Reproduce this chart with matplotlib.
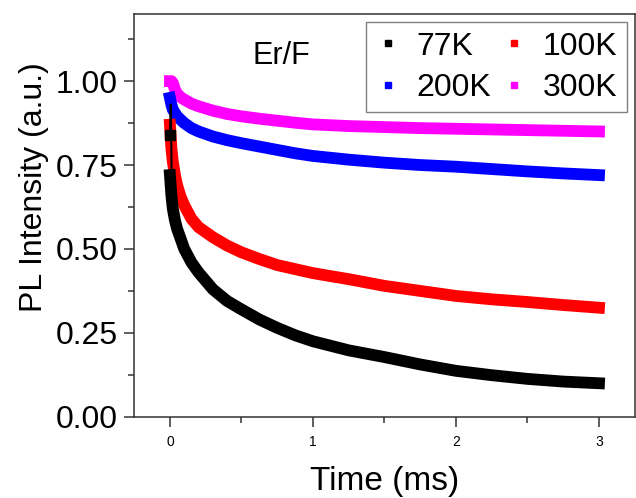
import matplotlib
matplotlib.use("Agg")
import matplotlib.pyplot as plt
from matplotlib.lines import Line2D
from matplotlib.ticker import MultipleLocator, FormatStrFormatter

plt.rcParams['font.family'] = ['Liberation Sans', 'DejaVu Sans']

# time axis (ms) shared by the decay curves
time_ms = [0.0, 0.01, 0.02, 0.035, 0.05, 0.075, 0.1, 0.15, 0.2, 0.3, 0.4, 0.5,
           0.625, 0.75, 0.875, 1.0, 1.25, 1.5, 1.75, 2.0, 2.25, 2.5, 2.75, 3.0]

pl_77k = [0.72, 0.66, 0.62, 0.585, 0.56, 0.53, 0.50, 0.46, 0.43, 0.38, 0.345,
          0.32, 0.29, 0.265, 0.243, 0.225, 0.198, 0.178, 0.156, 0.137, 0.124,
          0.113, 0.105, 0.10]
pl_100k = [0.87, 0.80, 0.76, 0.72, 0.69, 0.655, 0.63, 0.59, 0.565, 0.535, 0.51,
           0.49, 0.47, 0.452, 0.44, 0.428, 0.41, 0.39, 0.375, 0.36, 0.35, 0.342,
           0.333, 0.325]
pl_200k = [0.95, 0.93, 0.915, 0.905, 0.895, 0.885, 0.875, 0.86, 0.85, 0.835,
           0.824, 0.815, 0.805, 0.795, 0.785, 0.777, 0.766, 0.757, 0.75, 0.745,
           0.738, 0.731, 0.725, 0.72]
pl_300k = [1.0, 1.0, 0.995, 0.975, 0.962, 0.952, 0.945, 0.933, 0.925, 0.912,
           0.902, 0.895, 0.888, 0.882, 0.876, 0.871, 0.866, 0.863, 0.86, 0.858,
           0.856, 0.854, 0.852, 0.85]

# first few points of the 77K trace (spike right at t=0)
head_77k_t = [0.0, 0.006, 0.012]
head_77k_v = [0.84, 0.93, 0.72]

labels = ['77K', '100K', '200K', '300K']
colors = ['black', '#FF0000', '#0000FF', '#FF00FF']
series = [pl_77k, pl_100k, pl_200k, pl_300k]

fig = plt.figure(figsize=(6.36, 4.98), dpi=100)
ax = fig.add_axes([0.211, 0.163, 0.787, 0.809])

# later temperatures sit underneath
for i in range(3, -1, -1):
    ax.plot(time_ms, series[i], color=colors[i], lw=8.5,
            solid_capstyle='projecting', solid_joinstyle='round', zorder=2 + (3 - i))

ax.plot(head_77k_t, head_77k_v, color='black', lw=1.5, zorder=7)
ax.plot(head_77k_t[:1], head_77k_v[:1], color='black', marker='s', ms=7, ls='none', zorder=7)

ax.set_xlim(-0.25, 3.25)
ax.set_ylim(0, 1.2)
ax.xaxis.set_major_locator(MultipleLocator(1))
ax.xaxis.set_minor_locator(MultipleLocator(0.5))
ax.yaxis.set_major_locator(MultipleLocator(0.25))
ax.yaxis.set_minor_locator(MultipleLocator(0.125))
ax.yaxis.set_major_formatter(FormatStrFormatter('%.2f'))

ax.tick_params(which='both', direction='out', top=False, right=False, width=1.1, color='#333333')
ax.tick_params(which='major', length=7)
ax.tick_params(which='minor', length=4)
ax.tick_params(axis='x', labelsize=10, pad=6)
ax.tick_params(axis='y', labelsize=23, pad=5)
for sp in ax.spines.values():
    sp.set_linewidth(1.1)
    sp.set_color('#333333')

ax.set_xlabel('Time (ms)', fontsize=24, labelpad=12)
ax.set_ylabel('PL Intensity (a.u.)', fontsize=23)
ax.yaxis.set_label_coords(-0.171, 0.57)

ax.text(0.78, 1.075, 'Er/F', fontsize=22, ha='center', va='center')

handles = [Line2D([], [], color=c, marker='s', ms=5, ls='none') for c in colors]
order = [0, 2, 1, 3]
ax.legend([handles[i] for i in order], [labels[i] for i in order], ncol=2,
          loc='upper right', fontsize=23, frameon=True, fancybox=False,
          edgecolor='#808080', framealpha=1, handlelength=0.8, handletextpad=0.5,
          columnspacing=0.3, labelspacing=0.35, borderpad=0.3, borderaxespad=0.25)

fig.savefig('out.png', dpi=100)
